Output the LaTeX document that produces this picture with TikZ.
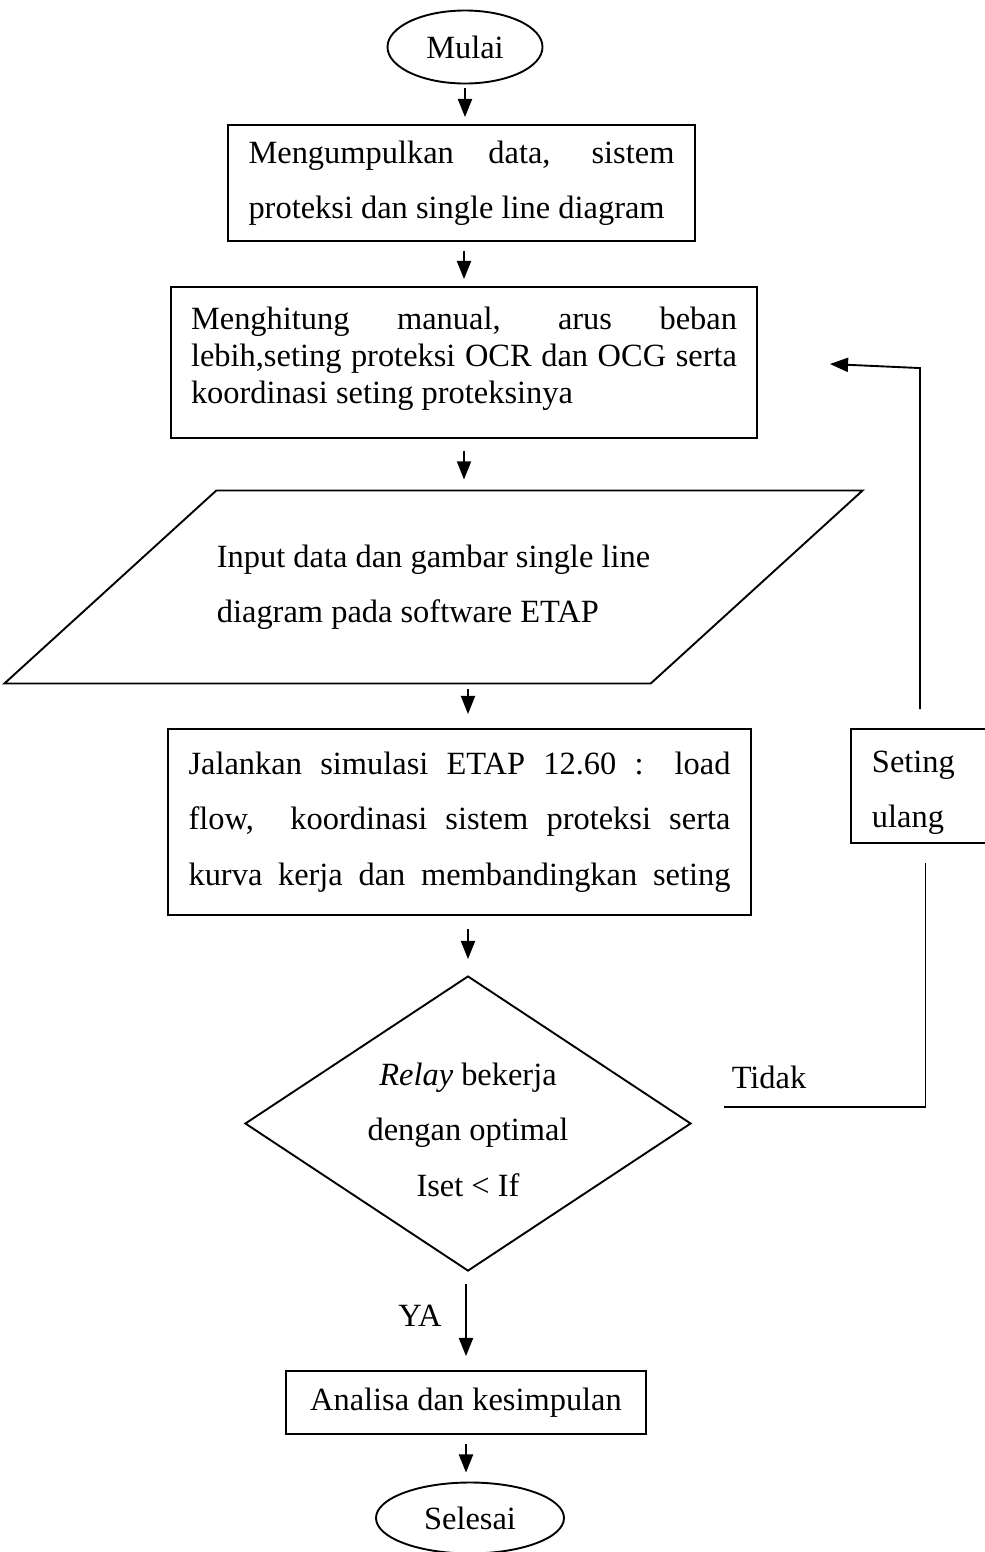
\documentclass[tikz,border=0pt]{standalone}
\usepackage{fontspec}
\setmainfont{Liberation Serif}
\usetikzlibrary{shapes.geometric,arrows.meta,calc}
\tikzset{
  box/.style={draw, rectangle, inner sep=0pt, line width=0.7pt},
  terminal/.style={draw, ellipse, inner sep=0pt, line width=0.7pt},
  flow/.style={-{Triangle[length=6.7pt,width=5.2pt]}, line width=0.7pt},
  dbl/.style={font=\fontsize{12}{20.5}\selectfont},
  sgl/.style={font=\fontsize{12}{13.7}\selectfont}
}

\begin{document}
\begin{tikzpicture}[x=0.37pt, y=-0.37pt, dbl]
		\useasboundingbox (0,0) rectangle (984,1552);
		% main column
		\node[terminal, minimum width=155*0.37pt, minimum height=73*0.37pt] (mulai) at (465,47) {Mulai};
		\node[box, align=left, minimum width=467*0.37pt, minimum height=116*0.37pt] (kumpul) at (461.5,183)
			{\makebox[157.6pt][s]{Mengumpulkan data, sistem}\\ proteksi dan single line diagram};
		\node[box, minimum width=586*0.37pt, minimum height=151*0.37pt,
			label={[sgl, align=left, yshift=1.5pt]center:{\makebox[202pt][s]{Menghitung manual, arus beban}\\ \makebox[202pt][s]{lebih,seting proteksi OCR dan OCG serta}\\ koordinasi seting proteksinya}}] (hitung) at (464,362.5) {};
		\node[align=left, inner sep=0pt, minimum width=423*0.37pt, minimum height=192*0.37pt] (input) at (433.5,587)
			{Input data dan gambar single line\\ diagram pada software ETAP};
		\draw[line width=0.7pt] ($(input.south west)+(-212,0)$) -- (input.north west)
			-- ($(input.north east)+(212,0)$) -- (input.south east) -- cycle;
		\node[box, align=left, minimum width=583*0.37pt, minimum height=186*0.37pt] (jalan) at (459.5,822)
			{\makebox[200.5pt][s]{Jalankan simulasi ETAP 12.60 : load}\\ \makebox[200.5pt][s]{flow,\ \ koordinasi sistem proteksi serta}\\ \makebox[200.5pt][s]{kurva kerja dan membandingkan seting}};
		\node[draw, diamond, inner sep=0pt, line width=0.7pt,
			minimum width=446*0.37pt, minimum height=295*0.37pt,
			label={[align=center, yshift=-2.3pt]center:{\textit{Relay} bekerja\\ dengan optimal\\ Iset < If}}] (cek) at (468,1123.5) {};
		\node[box, minimum width=360*0.37pt, minimum height=63*0.37pt] (analisa) at (466,1402.5) {Analisa dan kesimpulan};
		\node[terminal, minimum width=188*0.37pt, minimum height=71*0.37pt] (selesai) at (470,1518) {Selesai};
		% side box
		\node[box, minimum width=149*0.37pt, minimum height=114*0.37pt,
			label={[align=left, text width=39.6pt, yshift=-2.6pt]center:{Seting\\ ulang}}] (ulang) at (925.5,786) {};
		% labels
		\node (ya) at (420,1316) {YA};
		\node (tidak) at (769,1077) {Tidak};
		\coordinate (tidakline) at (724,1107);
		% arrows
		\draw[flow] ($(mulai.south)+(0,4)$) -- ($(mulai.south |- kumpul.north)+(0,-7)$);
		\draw[flow] ($(hitung.north |- kumpul.south)+(0,9)$) -- ($(hitung.north)+(0,-7)$);
		\draw[flow] ($(hitung.south)+(0,12)$) -- ($(hitung.south |- input.north)+(0,-11)$);
		\draw[flow] ($(cek.north |- input.south)+(0,5)$) -- ($(cek.north |- jalan.north)+(0,-14)$);
		\draw[flow] ($(cek.north |- jalan.south)+(0,13)$) -- ($(cek.north)+(0,-16)$);
		\draw[flow] ($(analisa.north |- cek.south)+(0,12)$) -- ($(analisa.north)+(0,-14)$);
		\draw[flow] ($(analisa.south)+(0,9)$) -- ($(analisa.south |- selesai.north)+(0,-9)$);
		% loop back
		\draw[line width=0.7pt] (tidakline) -- (tidakline -| ulang.south) -- ($(ulang.south)+(0,19)$);
		\draw[flow] ($(ulang.north)+(-5.5,-19)$) -- ++(0,-341) -- ($(hitung.east)+(72,1.5)$);
\end{tikzpicture}
\end{document}
